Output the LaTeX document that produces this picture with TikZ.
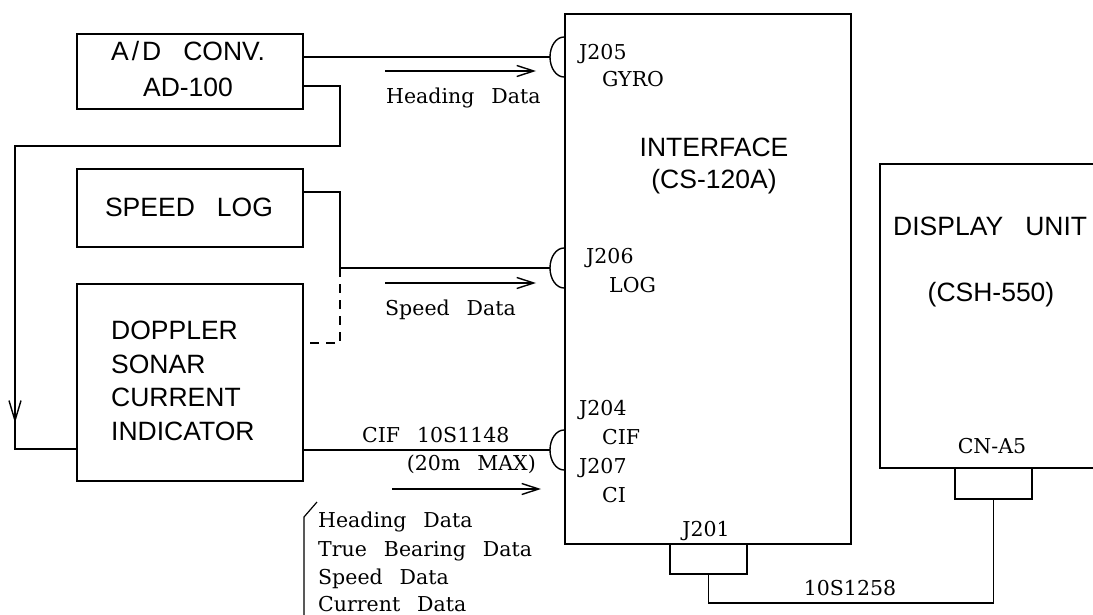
\documentclass[tikz,border=0pt]{standalone}
\usepackage{fontspec}
\setmainfont{DejaVu Serif}[WordSpace=2.6]
\newfontfamily\boxfont{Liberation Sans}[WordSpace=3]
\usetikzlibrary{arrows.meta}
\begin{document}
\begin{tikzpicture}[x=1pt,y=-1pt,
  unit/.style={draw, line width=1.7pt, inner sep=0pt, anchor=north west},
  wire/.style={line width=1.4pt},
  flow/.style={line width=1.4pt, -{Straight Barb[length=17pt,width=11pt,line width=1.4pt]}},
  stxt/.style={font=\boxfont\fontsize{26.5}{31}\selectfont, inner sep=0pt},
  ltxt/.style={font=\fontsize{20.5}{24}\selectfont, inner sep=0pt},
]
\useasboundingbox (0,0) rectangle (1093,615);
% units
\node[unit, minimum width=226pt, minimum height=75pt] (ad) at (76,33) {};
\node[unit, minimum width=226pt, minimum height=78pt] (log) at (76,168) {};
\node[unit, minimum width=226pt, minimum height=197pt] (dop) at (76,283) {};
\node[unit, minimum width=286pt, minimum height=530pt] (ifc) at (564,13) {};
\node[unit, minimum width=77pt, minimum height=30pt] (j201) at (669,543) {};
\node[unit, minimum width=300pt, minimum height=304pt] (disp) at (879,163) {};
\node[unit, minimum width=77pt, minimum height=31pt] (cna5) at (954,467) {};
% jacks
\foreach \n/\yy in {j205/57, j206/268, j204/450}{
  \draw[wire] (564,{\yy-20}) arc[start angle=270, end angle=90, x radius=14, y radius=20];
  \coordinate (\n) at (550,\yy);
}
% box texts
\node[stxt, anchor=base] (tad1) at (188,61) {A\kern3pt/\kern3pt D CONV.};
\node[stxt, anchor=base] (tad2) at (188,97) {AD-100};
\node[stxt, anchor=base] (tlog) at (189,216) {SPEED LOG};
\node[stxt, anchor=base west] (td1) at (111,339) {DOPPLER};
\node[stxt, anchor=base west] (td2) at (111,373) {SONAR};
\node[stxt, anchor=base west] (td3) at (111,406) {CURRENT};
\node[stxt, anchor=base west] (td4) at (111,440) {INDICATOR};
\node[stxt, anchor=base] (tif1) at (714,157) {INTERFACE};
\node[stxt, anchor=base] (tif2) at (714,189) {(CS-120A)};
\node[stxt, anchor=base west] (tds1) at (893,235) {DISPLAY UNIT};
\node[stxt, anchor=base] (tds2) at (991,301) {(CSH-550)};
% jack labels
\node[ltxt, anchor=base west] (l205) at (579,60) {J205};
\node[ltxt, anchor=base west] (lgy) at (602,87) {GYRO};
\node[ltxt, anchor=base west] (l206) at (586,263) {J206};
\node[ltxt, anchor=base west] (llog) at (609,292) {LOG};
\node[ltxt, anchor=base west] (l204) at (579,415) {J204};
\node[ltxt, anchor=base west] (lcif) at (602,444) {CIF};
\node[ltxt, anchor=base west] (l207) at (579,473) {J207};
\node[ltxt, anchor=base west] (lci) at (602,502) {CI};
\node[ltxt, anchor=base] (l201) at (706,536) {J201};
\node[ltxt, anchor=base] (lcna) at (992,453) {CN-A5};
% connectors
\draw[wire] (j205 -| ad.east) -- (j205);
\coordinate (a1) at (340,86);
\coordinate (a2) at (340,146);
\coordinate (a3) at (15,146);
\coordinate (a4) at (15,449);
\draw[wire] (a1 -| ad.east) -- (a1) -- (a2) -- (a3) -- (a4) -- (a4 -| dop.west);
\coordinate (am) at (15,423);
\draw[wire, -{Straight Barb[length=20pt,width=12pt,line width=1.4pt]}] (15,395) -- (am);
\coordinate (s1) at (340,192);
\coordinate (s2) at (340,343);
\draw[wire] (s1 -| log.east) -- (s1) -- (s1 |- j206) -- (j206);
\draw[wire, dash pattern=on 9pt off 7pt] (s1 |- j206) -- (s2) -- (s2 -| dop.east);
\draw[wire] (j204 -| dop.east) -- (j204);
\coordinate (b1) at (708,603);
\draw[wire] (j201.south) -- (j201.south |- b1) -- (b1 -| cna5.south) -- (cna5.south);
% flow arrows and labels
\draw[flow] (385,71) -- (536,71);
\node[ltxt, anchor=base west] (hd) at (386,104) {Heading Data};
\draw[flow] (385,283) -- (536,283);
\node[ltxt, anchor=base west] (sd) at (385,315) {Speed Data};
\node[ltxt, anchor=base west] (cif) at (362,442) {CIF 10S1148};
\node[ltxt, anchor=base east] (max) at (536,470) {(20m MAX)};
\draw[flow] (392,489) -- (541,489);
\node[ltxt, anchor=base] (cab) at (850,595) {10S1258};
% data list
\draw[line width=1.2pt] (317,502) -- (304,517) -- (304,620);
\node[ltxt, anchor=base west] (d1) at (318,527) {Heading Data};
\node[ltxt, anchor=base west] (d2) at (318,556) {True Bearing Data};
\node[ltxt, anchor=base west] (d3) at (318,584) {Speed Data};
\node[ltxt, anchor=base west] (d4) at (318,611) {Current Data};
\end{tikzpicture}
\end{document}
